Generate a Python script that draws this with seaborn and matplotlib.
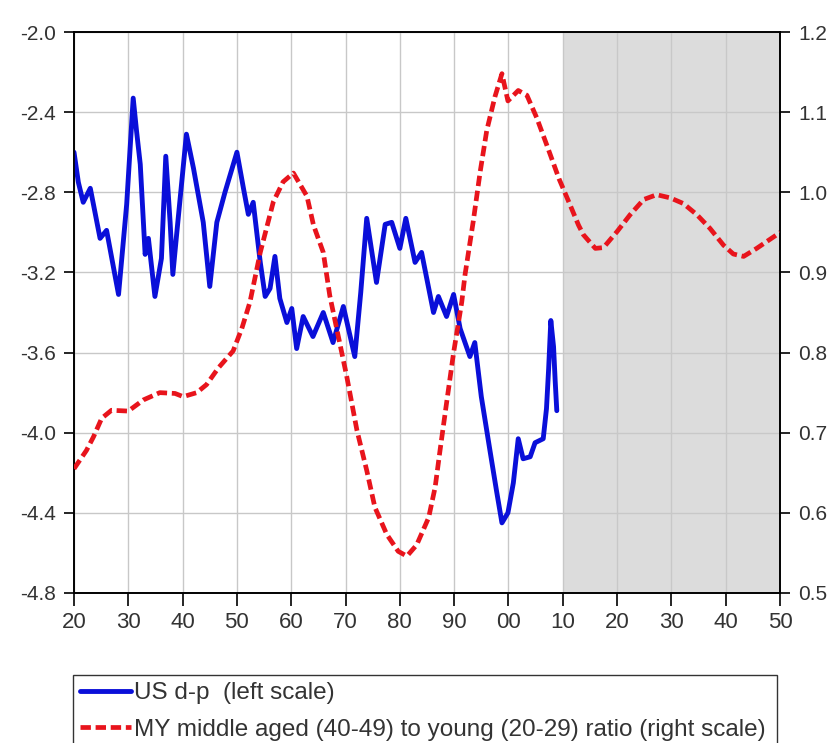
import matplotlib
matplotlib.use("Agg")
import matplotlib.pyplot as plt
import seaborn as sns
import pandas as pd

# ---- data ----
dp_year = [1920.0, 1920.8, 1921.7, 1923.0, 1924.8, 1926.0, 1928.2, 1929.7, 1930.9, 1931.5,
           1932.2, 1933.1, 1933.7, 1934.9, 1936.1, 1936.9, 1937.7, 1938.2, 1938.9, 1940.7,
           1942.0, 1943.8, 1945.0, 1946.3, 1947.8, 1950.0, 1951.2, 1952.1, 1953.0, 1954.3,
           1955.2, 1956.1, 1957.0, 1957.9, 1959.2, 1960.1, 1961.0, 1962.2, 1964.0, 1965.9,
           1967.7, 1969.6, 1971.7, 1972.8, 1973.9, 1975.7, 1977.3, 1978.5, 1980.0, 1981.1,
           1982.8, 1984.0, 1986.2, 1987.1, 1988.6, 1989.9, 1991.1, 1992.9, 1993.8, 1995.0,
           1996.6, 1997.8, 1998.8, 1999.9, 2000.9, 2001.8, 2002.7, 2004.0, 2004.9, 2006.4,
           2007.0, 2007.4, 2007.8, 2008.3, 2008.6, 2008.9]
dp_value = [-2.60, -2.75, -2.85, -2.78, -3.03, -2.99, -3.31, -2.86, -2.33, -2.49,
            -2.66, -3.11, -3.03, -3.32, -3.13, -2.62, -2.95, -3.21, -3.01, -2.51,
            -2.68, -2.95, -3.27, -2.95, -2.80, -2.60, -2.78, -2.91, -2.85, -3.15,
            -3.32, -3.28, -3.12, -3.33, -3.45, -3.38, -3.58, -3.42, -3.52, -3.40,
            -3.55, -3.37, -3.62, -3.30, -2.93, -3.25, -2.96, -2.95, -3.08, -2.93,
            -3.15, -3.10, -3.40, -3.32, -3.42, -3.31, -3.48, -3.62, -3.55, -3.82,
            -4.09, -4.29, -4.45, -4.40, -4.25, -4.03, -4.13, -4.12, -4.05, -4.03,
            -3.88, -3.68, -3.44, -3.57, -3.74, -3.89]

my_year = [1920.0, 1922.3, 1923.6, 1925.1, 1926.9, 1930.0, 1932.8, 1935.8, 1938.6, 1940.1,
           1942.6, 1944.4, 1946.6, 1949.3, 1950.9, 1952.4, 1954.3, 1956.7, 1958.5, 1960.4,
           1962.9, 1964.1, 1965.9, 1967.1, 1968.4, 1970.2, 1972.1, 1973.9, 1975.4, 1977.6,
           1979.7, 1981.3, 1983.1, 1985.3, 1986.5, 1987.4, 1988.6, 1989.9, 1991.4, 1992.0,
           1993.5, 1994.8, 1996.0, 1997.5, 1998.8, 1999.9, 2001.8, 2003.4, 2005.2, 2007.0,
           2009.3, 2011.3, 2012.9, 2013.8, 2016.0, 2017.5, 2020.0, 2022.4, 2024.9, 2027.3,
           2029.8, 2032.2, 2034.7, 2037.1, 2039.6, 2041.4, 2043.3, 2045.7, 2049.4, 2050.0]
my_value = [0.655, 0.678, 0.695, 0.718, 0.728, 0.727, 0.741, 0.750, 0.749, 0.745,
            0.750, 0.760, 0.781, 0.802, 0.830, 0.863, 0.925, 0.988, 1.013, 1.024,
            0.995, 0.959, 0.925, 0.871, 0.829, 0.771, 0.703, 0.653, 0.607, 0.573,
            0.552, 0.546, 0.560, 0.594, 0.632, 0.678, 0.737, 0.800, 0.863, 0.897,
            0.963, 1.026, 1.077, 1.119, 1.148, 1.114, 1.127, 1.121, 1.093, 1.060,
            1.017, 0.985, 0.959, 0.947, 0.930, 0.931, 0.951, 0.972, 0.991, 0.997,
            0.993, 0.986, 0.972, 0.955, 0.934, 0.923, 0.920, 0.930, 0.947, 0.950]

x_ticks = [1920, 1930, 1940, 1950, 1960, 1970, 1980, 1990, 2000, 2010, 2020, 2030, 2040, 2050]
x_labels = ["20", "30", "40", "50", "60", "70", "80", "90", "00", "10", "20", "30", "40", "50"]
left_ticks = [-4.8, -4.4, -4.0, -3.6, -3.2, -2.8, -2.4, -2.0]
right_ticks = [0.5, 0.6, 0.7, 0.8, 0.9, 1.0, 1.1, 1.2]
forecast_span = (2010, 2050)

label_dp = "US d-p  (left scale)"
label_my = "MY middle aged (40-49) to young (20-29) ratio (right scale)"

# ---- style ----
sns.set_style("white")
plt.rcParams["font.family"] = ["Liberation Sans", "DejaVu Sans"]

fig = plt.figure(figsize=(8.37, 7.43), dpi=100)
ax = fig.add_axes([74 / 837, 1 - 593 / 743, 706 / 837, 561 / 743])
ax2 = ax.twinx()

blue = "#0a0fd9"
red = "#e8141c"
txt = "#333333"

ax.axvspan(*forecast_span, color="#dcdcdc", zorder=0, lw=0)

df_dp = pd.DataFrame({"year": dp_year, "value": dp_value})
df_my = pd.DataFrame({"year": my_year, "value": my_value})

sns.lineplot(data=df_dp, x="year", y="value", ax=ax, color=blue, lw=3.5,
             estimator=None, sort=False, label=label_dp, legend=False, zorder=3)
sns.lineplot(data=df_my, x="year", y="value", ax=ax2, color=red, lw=3.4,
             estimator=None, sort=False, label=label_my, legend=False, zorder=3)
ax2.lines[0].set_dashes((2.2, 1.0))

ax.set_xlim(1920, 2050)
ax.set_ylim(-4.8, -2.0)
ax2.set_ylim(0.5, 1.2)

ax.set_xticks(x_ticks)
ax.set_xticklabels(x_labels)
ax.set_yticks(left_ticks)
ax.set_yticklabels([f"{v:.1f}" for v in left_ticks])
ax2.set_yticks(right_ticks)
ax2.set_yticklabels([f"{v:.1f}" for v in right_ticks])

ax.set_xlabel("")
ax.set_ylabel("")
ax2.set_ylabel("")

ax.set_axisbelow(True)
ax.grid(True, color="#c8c8c8", lw=1.0)
ax2.grid(False)

for a in (ax, ax2):
    for s in a.spines.values():
        s.set_color("black")
        s.set_linewidth(1.2)
        s.set_visible(True)
ax.tick_params(axis="y", left=True, right=False, direction="out", length=7,
               width=1.2, color="black", labelsize=15, labelcolor=txt, pad=6)
ax.tick_params(axis="x", bottom=True, direction="out", length=9, width=1.2,
               color="black", labelsize=16, labelcolor=txt, pad=5)
ax2.tick_params(axis="y", right=True, left=False, direction="out", length=7,
                width=1.2, color="black", labelsize=15, labelcolor=txt, pad=6)

h1 = ax.lines[0]
h2 = ax2.lines[0]
leg = fig.legend([h1, h2], [label_dp, label_my], loc="upper left",
                 bbox_to_anchor=(73 / 837, 1 - 675 / 743, 704 / 837, 0), mode="expand",
                 frameon=True, fancybox=False, edgecolor="black", fontsize=17.5,
                 handlelength=2.1, handletextpad=0.12, borderpad=0.3, labelspacing=0.6,
                 borderaxespad=0.0)
leg.get_frame().set_linewidth(1.0)
for t in leg.get_texts():
    t.set_color(txt)

fig.savefig("out.png", dpi=100)
